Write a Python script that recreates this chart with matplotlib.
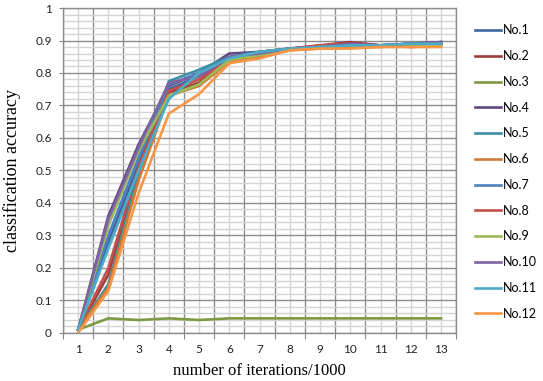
# plot.py
# Classification accuracy vs iterations for 12 runs (Excel-style line chart)

import numpy as np
import matplotlib.pyplot as plt
from matplotlib.ticker import MultipleLocator, FixedLocator, NullFormatter

iterations = list(range(1, 14))
run_names = ['No.1', 'No.2', 'No.3', 'No.4', 'No.5', 'No.6',
             'No.7', 'No.8', 'No.9', 'No.10', 'No.11', 'No.12']

no1 = [0.01, 0.28, 0.52, 0.75, 0.79, 0.84, 0.86, 0.875, 0.88, 0.885, 0.885, 0.89, 0.895]
no2 = [0.01, 0.18, 0.50, 0.74, 0.77, 0.845, 0.865, 0.875, 0.885, 0.895, 0.885, 0.88, 0.885]
no3 = [0.01, 0.045, 0.04, 0.045, 0.04, 0.045, 0.045, 0.045, 0.045, 0.045, 0.045, 0.045, 0.045]
no4 = [0.01, 0.36, 0.58, 0.76, 0.80, 0.86, 0.865, 0.875, 0.88, 0.89, 0.885, 0.89, 0.895]
no5 = [0.01, 0.15, 0.49, 0.775, 0.81, 0.85, 0.865, 0.875, 0.88, 0.885, 0.885, 0.89, 0.89]
no6 = [0.01, 0.14, 0.47, 0.73, 0.76, 0.835, 0.85, 0.87, 0.875, 0.88, 0.88, 0.885, 0.885]
no7 = [0.01, 0.30, 0.54, 0.765, 0.80, 0.845, 0.86, 0.875, 0.88, 0.885, 0.885, 0.89, 0.89]
no8 = [0.01, 0.20, 0.51, 0.745, 0.78, 0.84, 0.86, 0.875, 0.885, 0.89, 0.885, 0.885, 0.89]
no9 = [0.01, 0.33, 0.56, 0.73, 0.765, 0.84, 0.855, 0.87, 0.88, 0.885, 0.885, 0.885, 0.885]
no10 = [0.01, 0.35, 0.57, 0.77, 0.79, 0.85, 0.86, 0.875, 0.88, 0.89, 0.885, 0.89, 0.895]
no11 = [0.01, 0.26, 0.50, 0.72, 0.80, 0.845, 0.865, 0.875, 0.88, 0.885, 0.885, 0.89, 0.89]
no12 = [0.0, 0.13, 0.43, 0.675, 0.735, 0.83, 0.845, 0.87, 0.875, 0.875, 0.88, 0.88, 0.88]
runs = [no1, no2, no3, no4, no5, no6, no7, no8, no9, no10, no11, no12]

colors = ['#3f67a0', '#a03d3b', '#7c9a45', '#5f4a82', '#3a90a6', '#d07a35',
          '#4f80c0', '#c44f4c', '#9bbb59', '#8064a2', '#4bacc6', '#f79646']

fig = plt.figure(figsize=(5.43, 3.81), dpi=100)
ax = fig.add_axes([0.116, 0.126, 0.724, 0.853])

for vals, name, c in zip(runs, run_names, colors):
    ax.plot(iterations, vals, color=c, lw=1.9, label=name, solid_joinstyle='miter')

ax.set_xlim(0.5, 13.5)
ax.set_ylim(0, 1)

# x: boundaries as major (ticks + dark grid), centers as minor (labels + light grid)
ax.xaxis.set_major_locator(FixedLocator(np.arange(0.5, 14, 1.0)))
ax.xaxis.set_major_formatter(NullFormatter())
ax.xaxis.set_minor_locator(FixedLocator(iterations))
ax.set_xticklabels([str(i) for i in iterations], minor=True)
ax.tick_params(axis='x', which='major', length=4, color='#888888')
ax.tick_params(axis='x', which='minor', length=0, pad=8, labelsize=8.5)

ax.yaxis.set_major_locator(MultipleLocator(0.1))
ax.yaxis.set_minor_locator(MultipleLocator(0.02))
ax.set_yticks(np.arange(0, 1.01, 0.1))
ax.set_yticklabels(['0', '0.1', '0.2', '0.3', '0.4', '0.5', '0.6', '0.7', '0.8', '0.9', '1'])
ax.tick_params(axis='y', which='major', length=3, color='#888888', labelsize=8.5, pad=5)
ax.tick_params(axis='y', which='minor', length=0)

for lab in ax.get_xticklabels(minor=True) + ax.get_yticklabels():
    lab.set_fontfamily('Lato')
    lab.set_color('#222222')

ax.grid(True, which='major', color='#8c8c8c', lw=1.0)
ax.grid(True, which='minor', color='#d4d4d4', lw=1.0)
ax.set_axisbelow(True)
for s in ax.spines.values():
    s.set_color('#8c8c8c')
    s.set_linewidth(1.0)

ax.set_xlabel('number of iterations/1000', family='Liberation Serif', fontsize=12, labelpad=6)
ax.set_ylabel('classification accuracy', family='Liberation Serif', fontsize=13, labelpad=10)

leg = ax.legend(loc='upper left', bbox_to_anchor=(1.035, 0.965), frameon=False,
                prop={'family': 'Lato', 'size': 9}, handlelength=2.1, handletextpad=0.1,
                labelspacing=1.1, borderaxespad=0)

plt.savefig('out.png', dpi=100, facecolor='white')
plt.close()
